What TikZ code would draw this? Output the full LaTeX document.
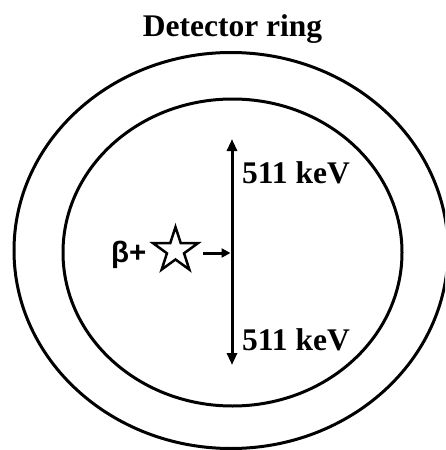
\documentclass[tikz,border=0pt]{standalone}
\usepackage{fontspec}
\setmainfont{Liberation Serif}
\newfontfamily\betafont{Liberation Sans}
\usetikzlibrary{arrows.meta,calc}
\begin{document}
\begin{tikzpicture}[x=1pt,y=-1pt,
  ring/.style={line width=3pt},
  lbl/.style={font=\fontsize{31.5}{36}\selectfont\bfseries, inner sep=0pt},
  ray/.style={line width=3pt, {Triangle[length=12pt,width=10pt]}-{Triangle[length=12pt,width=10pt]}},
  push/.style={line width=3pt, -{Triangle[length=9pt,width=9pt]}},
  starline/.style={line width=2.5pt, line join=miter}]
\useasboundingbox (0,0) rectangle (445,450);
\begin{scope}
\clip (0,0) rectangle (445,450);
\draw[ring] (231,250.5) ellipse [x radius=217, y radius=198];
\end{scope}
\draw[ring] (232.5,252.5) ellipse [x radius=169.5, y radius=153.5];
\node[lbl, anchor=base] (title) at (232.5,36) {Detector ring};
\coordinate (top) at (232,139);
\coordinate (bot) at (232,365);
\coordinate (mid) at (230.5,253);
\coordinate (src) at (203,253);
\draw[ray] (top) -- (bot);
\draw[push] (src) -- (mid);
\node[lbl, anchor=base west] (lab1) at (242,183) {511 keV};
\node[lbl, anchor=base west] (lab2) at (242,350) {511 keV};
\coordinate (star) at (175.5,250.5);
\draw[starline] ($(star)+(-90:23.5)$)
  \foreach \k in {0,...,4} {
    -- ($(star)+(-90+72*\k+36:9)$) -- ($(star)+(-90+72*\k+72:23.5)$)
  } -- cycle;
\node[inner sep=0pt, anchor=base west, font=\betafont\fontsize{29.5}{33}\selectfont\bfseries] (beta) at (111,262) {β+};
\end{tikzpicture}
\end{document}
